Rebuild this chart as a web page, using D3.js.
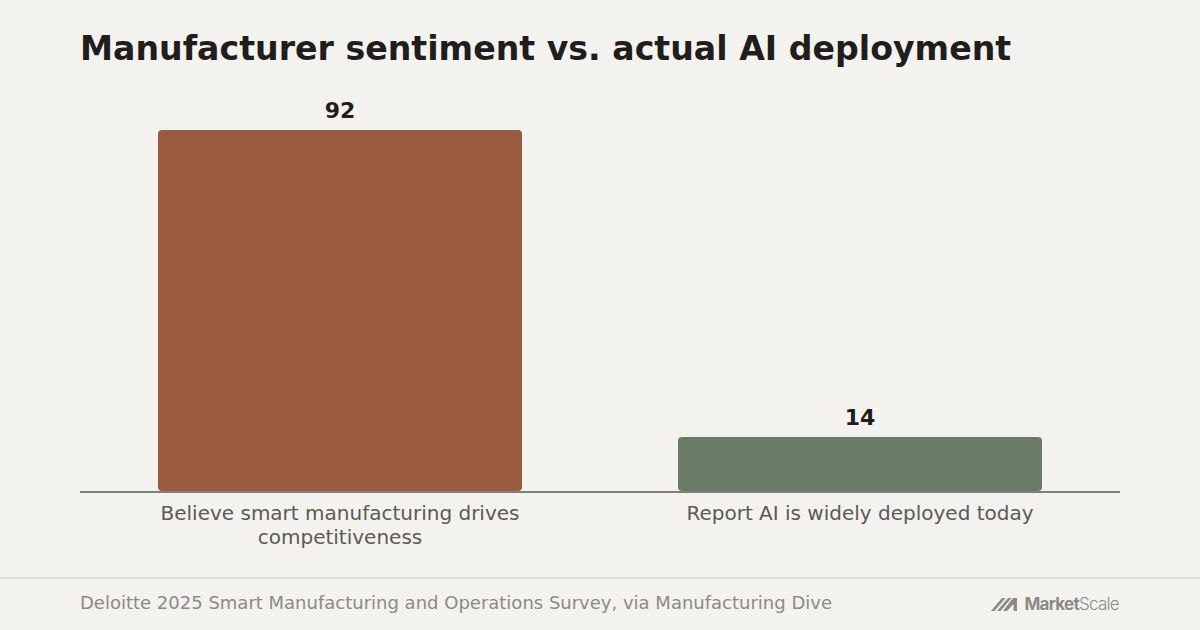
<!DOCTYPE html>
<html>
<head>
<meta charset="utf-8">
<script src="https://cdn.jsdelivr.net/npm/d3@7"></script>
<style>
  html, body { margin: 0; padding: 0; background: #f4f2ee; }
  svg { display: block; font-family: "DejaVu Sans", sans-serif; }
</style>
</head>
<body>
<svg id="chart" width="1200" height="630"></svg>
<script>

// values
var categories = [
  ["Believe smart manufacturing drives", "competitiveness"],
  ["Report AI is widely deployed today"]
];
var values = [92, 14];
var barColors = ["#9a5a3e", "#6b7c69"];

var titleText = "Manufacturer sentiment vs. actual AI deployment";
var sourceText = "Deloitte 2025 Smart Manufacturing and Operations Survey, via Manufacturing Dive";

var svg = d3.select("#chart");
var W = 1200, H = 630;
var margin = { left: 80, right: 80, top: 130, baseline: 492 };

svg.append("rect")
    .attr("width", W).attr("height", H)
    .attr("fill", "#f4f2ee");

// title
svg.append("text")
    .attr("x", 80).attr("y", 60)
    .attr("font-size", 33.2).attr("font-weight", "bold")
    .attr("fill", "#1f1e1c")
    .text(titleText);

var idx = values.map(function(d, i) { return i; });

var x = d3.scaleBand()
    .domain(idx)
    .range([margin.left, W - margin.right])
    .paddingInner(0.3)
    .paddingOuter(0.15);

var y = d3.scaleLinear()
    .domain([0, d3.max(values)])
    .range([margin.baseline, margin.top]);

// bars
svg.append("g").selectAll("rect")
    .data(values)
  .enter().append("rect")
    .attr("x", function(d, i) { return x(i); })
    .attr("y", function(d) { return y(d); })
    .attr("width", x.bandwidth())
    .attr("height", function(d) { return y(0) - y(d) - 1; })
    .attr("rx", 4)
    .attr("fill", function(d, i) { return barColors[i]; });

// value labels
svg.append("g").selectAll("text")
    .data(values)
  .enter().append("text")
    .attr("x", function(d, i) { return x(i) + x.bandwidth() / 2; })
    .attr("y", function(d) { return y(d) - 12; })
    .attr("text-anchor", "middle")
    .attr("font-size", 22).attr("font-weight", "bold")
    .attr("fill", "#1f1e1c")
    .text(function(d) { return d; });

// baseline
svg.append("line")
    .attr("x1", margin.left).attr("x2", W - margin.right)
    .attr("y1", y(0)).attr("y2", y(0))
    .attr("stroke", "#5c5750").attr("stroke-width", 1.5);

// category labels
var labels = svg.append("g").selectAll("text")
    .data(categories)
  .enter().append("text")
    .attr("x", function(d, i) { return x(i) + x.bandwidth() / 2; })
    .attr("y", y(0) + 28)
    .attr("text-anchor", "middle")
    .attr("font-size", 20)
    .attr("fill", "#5c5a55");

labels.selectAll("tspan")
    .data(function(d) { return d; })
  .enter().append("tspan")
    .attr("x", function() { return d3.select(this.parentNode).attr("x"); })
    .attr("dy", function(d, j) { return j === 0 ? 0 : 24; })
    .text(function(d) { return d; });

// footer
svg.append("line")
    .attr("x1", 0).attr("x2", W)
    .attr("y1", 578).attr("y2", 578)
    .attr("stroke", "#e4e1dc").attr("stroke-width", 2);

svg.append("text")
    .attr("x", 80).attr("y", 609)
    .attr("font-size", 18)
    .attr("fill", "#8c8a85")
    .text(sourceText);

// MarketScale logo
var logo = svg.append("g").attr("fill", "#8c8a87");
logo.append("path")
    .attr("d", "M991,611 L1002,598 L1005.5,598 L994.5,611 Z M997,611 L1008,598 L1011.5,598 L1000.5,611 Z M1003,611 L1013,598 L1017,598 L1017,611 L1013.5,611 L1013.5,604 L1007,611 Z");
var logoText = logo.append("text")
    .attr("x", 1119).attr("y", 610)
    .attr("text-anchor", "end")
    .attr("font-family", "Inter, 'Noto Sans', sans-serif")
    .attr("font-size", 17)
    .attr("letter-spacing", -0.7);
logoText.append("tspan").attr("font-weight", "bold").text("Market");
logoText.append("tspan").attr("font-weight", 300).text("Scale");

</script>
</body>
</html>
